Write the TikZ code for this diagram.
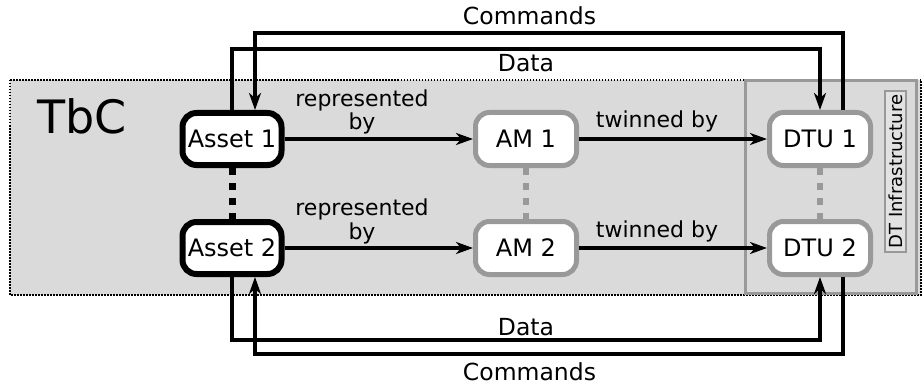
\documentclass[tikz,border=0pt]{standalone}
\usepackage{fontspec}
\setmainfont{DejaVu Sans}
\usetikzlibrary{arrows.meta,calc}
\definecolor{bg}{HTML}{DADADA}
\definecolor{gr}{HTML}{999999}
\definecolor{lbg}{HTML}{E2E2E2}
\begin{document}
\begin{tikzpicture}[x=1pt,y=-1pt,
  asset/.style={draw=black, line width=6pt, fill=white, rounded corners=14pt,
    minimum width=99pt, minimum height=52pt, inner sep=0pt,
    font=\fontsize{24}{28}\selectfont},
  gbox/.style={asset, draw=gr, line width=5pt, minimum width=101pt, minimum height=53pt},
  tip/.style={-{Stealth[length=17pt,width=12pt,inset=5pt]}},
  conn/.style={line width=3.5pt, tip},
  bus/.style={line width=4pt},
  elabel/.style={font=\fontsize{22}{24}\selectfont, align=center, inner sep=0pt, anchor=base},
  blabel/.style={font=\fontsize{23.5}{27}\selectfont, inner sep=0pt, anchor=base},
  vdash/.style={line width=7pt, dash pattern=on 7pt off 8pt},
]
\useasboundingbox (0,0) rectangle (923,385);
% regions
\path[fill=bg] (10,80) rectangle (921,295);
\draw[line width=1.5pt, dash pattern=on 1.5pt off 1.5pt] (10,80) rectangle (921,295);
\draw[gr, line width=3pt, fill=bg] (745.5,80.5) rectangle (916.5,293.5);
\node[draw=gr, line width=1.5pt, fill=lbg, rotate=90, inner sep=3.5pt,
  font=\fontsize{18}{21}\selectfont] (dti) at (895.5,171.5) {DT Infrastructure};
\node[inner sep=0pt, anchor=base, font=\fontsize{46}{50}\selectfont] (tbc) at (82,133) {TbC};
% nodes
\node[asset] (a1) at (232,139) {Asset 1};
\node[asset] (a2) at (232,248) {Asset 2};
\node[gbox] (m1) at (526,139) {AM 1};
\node[gbox] (m2) at (526,248) {AM 2};
\node[gbox] (d1) at (820,139) {DTU 1};
\node[gbox] (d2) at (820,248) {DTU 2};
% vertical dashes
\draw[vdash] (a1.south) -- (a2.north);
\draw[vdash, gr, line width=6pt] (m1.south) -- (m2.north);
\draw[vdash, gr, line width=6pt] (d1.south) -- (d2.north);
% horizontal edges
\draw[conn] (a1) -- (m1);
\draw[conn] (m1) -- (d1);
\draw[conn] (a2) -- (m2);
\draw[conn] (m2) -- (d2);
\node[elabel] (r1) at (362,130) {represented\\by};
\node[elabel] (t1) at (657,128) {twinned by};
\node[elabel] (r2) at (362,239) {represented\\by};
\node[elabel] (t2) at (657,237) {twinned by};
% buses
\coordinate (ct) at (0,33);
\coordinate (dt) at (0,49);
\coordinate (db) at (0,340);
\coordinate (cb) at (0,354);
\coordinate (a1c) at ($(a1.north)+(23,0)$);
\coordinate (d1c) at ($(d1.north)+(23,0)$);
\coordinate (a2c) at ($(a2.south)+(23,0)$);
\coordinate (d2c) at ($(d2.south)+(23,0)$);
\draw[bus, tip] (d1c) -- (d1c |- ct) -- (a1c |- ct) -- (a1c);
\draw[bus, tip] (a1.north) -- (a1.north |- dt) -- (d1.north |- dt) -- (d1.north);
\draw[bus, tip] (a2.south) -- (a2.south |- db) -- (d2.south |- db) -- (d2.south);
\draw[bus, tip] (d2c) -- (d2c |- cb) -- (a2c |- cb) -- (a2c);
\node[blabel] (cmdt) at (529.5,25) {Commands};
\node[blabel] (datt) at (526,72) {Data};
\node[blabel] (datb) at (526,335) {Data};
\node[blabel] (cmdb) at (529.5,380) {Commands};
\end{tikzpicture}
\end{document}
